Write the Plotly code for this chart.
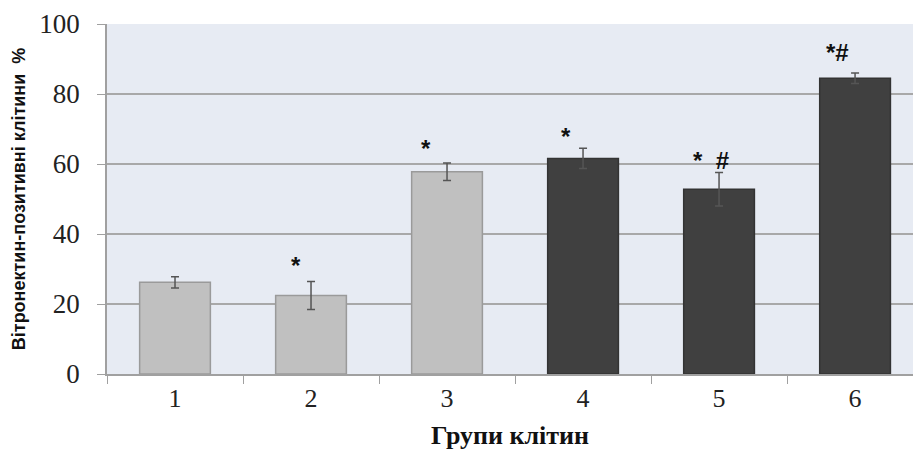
import plotly.graph_objects as go

categories = ["1", "2", "3", "4", "5", "6"]
values = [26.2, 22.4, 57.8, 61.6, 52.8, 84.5]
errors = [1.6, 4.0, 2.5, 2.9, 4.8, 1.5]
bar_colors = ["#c0c0c0", "#c0c0c0", "#c0c0c0", "#404040", "#404040", "#404040"]
line_colors = ["#9a9a9a", "#9a9a9a", "#9a9a9a", "#333333", "#333333", "#333333"]
marks = ["", "*", "*", "*", "*  #", "*#"]
mark_y = [0, 31.0, 64.5, 68.0, 61.0, 92.0]
mark_shift = [0, -15, -21, -17, -8, -18]

fig = go.Figure()
fig.add_trace(go.Bar(
    x=categories, y=values,
    marker=dict(color=bar_colors, line=dict(color=line_colors, width=1.5)),
    error_y=dict(type="data", array=errors, color="#555555", thickness=1.5, width=4),
    width=0.52,
))

for i, (m, my, sh) in enumerate(zip(marks, mark_y, mark_shift)):
    if m:
        fig.add_annotation(x=i, y=my, text="<b>" + m + "</b>", showarrow=False, xshift=sh,
                           font=dict(family="Liberation Sans", size=24, color="#111111"))

fig.update_layout(
    width=913, height=456,
    margin=dict(l=107, r=0, t=24, b=82),
    paper_bgcolor="white",
    plot_bgcolor="#e7ebf3",
    showlegend=False,
    xaxis=dict(
        type="category",
        range=[-0.5, 5.426],
        showline=True, linecolor="#a0a0a0", linewidth=1.5,
        ticks="outside", ticklen=8, tickcolor="#a0a0a0",
        tickson="boundaries",
        tickfont=dict(family="Liberation Serif", size=26, color="#222222"),
        showgrid=False,
        title=dict(text="<b>Групи клітин</b>",
                   font=dict(family="Liberation Serif", size=26, color="#111111"),
                   standoff=14),
    ),
    yaxis=dict(
        range=[0, 100], dtick=20,
        showline=True, linecolor="#a0a0a0", linewidth=1.5,
        ticks="outside", ticklen=8, tickcolor="#a0a0a0",
        ticklabelstandoff=12,
        showgrid=True, gridcolor="#a8a8a8", gridwidth=1.5,
        tickfont=dict(family="Liberation Serif", size=27, color="#222222"),
        title=dict(text="<b>Вітронектин-позитивні клітини  %</b>",
                   font=dict(family="Liberation Sans", size=18, color="#111111"),
                   standoff=9),
        zeroline=False,
    ),
)

fig.write_html("out.html")
